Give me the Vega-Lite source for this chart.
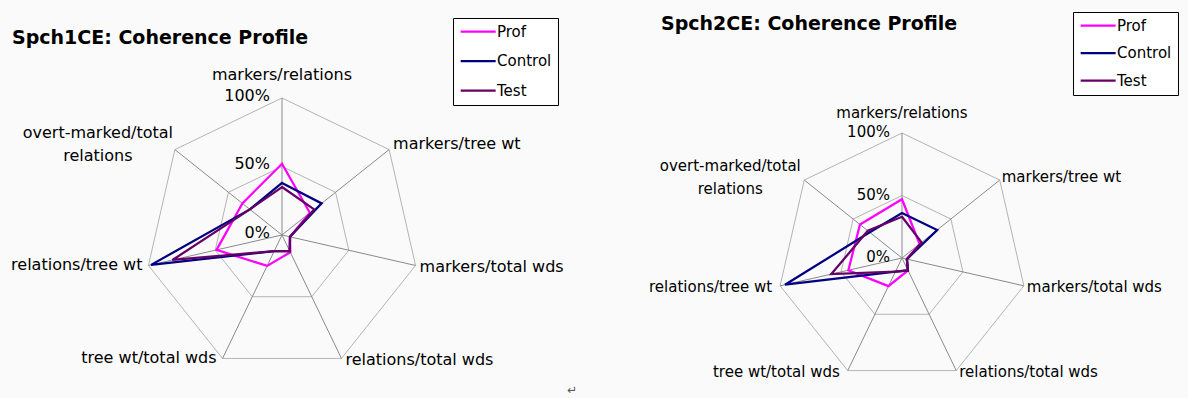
{
  "$schema": "https://vega.github.io/schema/vega-lite/v6.json",
  "background": "#fafafa",
  "padding": 0,
  "autosize": {"type": "pad"},
  "spacing": 0,
  "bounds": "flush",
  "config": {"view": {"stroke": null}, "font": "DejaVu Sans"},
  "datasets": {
    "axes": [
      {"axis": "markers/relations", "i": 0, "label": "markers/relations"},
      {"axis": "markers/tree wt", "i": 1, "label": "markers/tree wt"},
      {"axis": "markers/total wds", "i": 2, "label": "markers/total wds"},
      {"axis": "relations/total wds", "i": 3, "label": "relations/total wds"},
      {"axis": "tree wt/total wds", "i": 4, "label": "tree wt/total wds"},
      {"axis": "relations/tree wt", "i": 5, "label": "relations/tree wt"},
      {"axis": "overt-marked/total relations", "i": 6, "label": "overt-marked/total\nrelations"}
    ],
    "ticks": [
      {"label": "100%", "v": 100},
      {"label": "50%", "v": 50},
      {"label": "0%", "v": 0}
    ],
    "spch1": [
      {"series": "Prof", "axis": "markers/relations", "value": 52},
      {"series": "Prof", "axis": "markers/tree wt", "value": 26},
      {"series": "Prof", "axis": "markers/total wds", "value": 6},
      {"series": "Prof", "axis": "relations/total wds", "value": 14},
      {"series": "Prof", "axis": "tree wt/total wds", "value": 25},
      {"series": "Prof", "axis": "relations/tree wt", "value": 49},
      {"series": "Prof", "axis": "overt-marked/total relations", "value": 37},
      {"series": "Control", "axis": "markers/relations", "value": 38},
      {"series": "Control", "axis": "markers/tree wt", "value": 37},
      {"series": "Control", "axis": "markers/total wds", "value": 6},
      {"series": "Control", "axis": "relations/total wds", "value": 13},
      {"series": "Control", "axis": "tree wt/total wds", "value": 13},
      {"series": "Control", "axis": "relations/tree wt", "value": 98},
      {"series": "Control", "axis": "overt-marked/total relations", "value": 30},
      {"series": "Test", "axis": "markers/relations", "value": 35},
      {"series": "Test", "axis": "markers/tree wt", "value": 30},
      {"series": "Test", "axis": "markers/total wds", "value": 6},
      {"series": "Test", "axis": "relations/total wds", "value": 13},
      {"series": "Test", "axis": "tree wt/total wds", "value": 13},
      {"series": "Test", "axis": "relations/tree wt", "value": 82},
      {"series": "Test", "axis": "overt-marked/total relations", "value": 30}
    ],
    "spch2": [
      {"series": "Prof", "axis": "markers/relations", "value": 47},
      {"series": "Prof", "axis": "markers/tree wt", "value": 18},
      {"series": "Prof", "axis": "markers/total wds", "value": 4},
      {"series": "Prof", "axis": "relations/total wds", "value": 11},
      {"series": "Prof", "axis": "tree wt/total wds", "value": 25},
      {"series": "Prof", "axis": "relations/tree wt", "value": 44},
      {"series": "Prof", "axis": "overt-marked/total relations", "value": 43},
      {"series": "Control", "axis": "markers/relations", "value": 36},
      {"series": "Control", "axis": "markers/tree wt", "value": 36},
      {"series": "Control", "axis": "markers/total wds", "value": 4},
      {"series": "Control", "axis": "relations/total wds", "value": 11},
      {"series": "Control", "axis": "tree wt/total wds", "value": 12},
      {"series": "Control", "axis": "relations/tree wt", "value": 96},
      {"series": "Control", "axis": "overt-marked/total relations", "value": 33},
      {"series": "Test", "axis": "markers/relations", "value": 33},
      {"series": "Test", "axis": "markers/tree wt", "value": 20},
      {"series": "Test", "axis": "markers/total wds", "value": 4},
      {"series": "Test", "axis": "relations/total wds", "value": 11},
      {"series": "Test", "axis": "tree wt/total wds", "value": 12},
      {"series": "Test", "axis": "relations/tree wt", "value": 58},
      {"series": "Test", "axis": "overt-marked/total relations", "value": 35}
    ],
    "titles": [
      {"chart": "spch1", "title": "Spch1CE: Coherence Profile"},
      {"chart": "spch2", "title": "Spch2CE: Coherence Profile"}
    ]
  },
  "resolve": {"scale": {"color": "independent"}, "legend": {"color": "independent"}},
  "hconcat": [
    {
      "width": 580,
      "height": 398,
      "encoding": {
        "x": {"field": "px", "type": "quantitative", "scale": {"domain": [-205.84, 217.52], "nice": false, "zero": false}, "axis": null},
        "y": {"field": "py", "type": "quantitative", "scale": {"domain": [-118.98, 171.53], "nice": false, "zero": false}, "axis": null}
      },
      "layer": [
        {
          "data": {"name": "axes"},
          "transform": [{"calculate": "100*sin(2*PI*datum.i/7)", "as": "px"}, {"calculate": "100*cos(2*PI*datum.i/7)", "as": "py"}],
          "mark": {"type": "line", "interpolate": "linear-closed", "color": "#b4b4b4", "strokeWidth": 1},
          "encoding": {"order": {"field": "i"}}
        },
        {
          "data": {"name": "axes"},
          "transform": [{"calculate": "50*sin(2*PI*datum.i/7)", "as": "px"}, {"calculate": "50*cos(2*PI*datum.i/7)", "as": "py"}],
          "mark": {"type": "line", "interpolate": "linear-closed", "color": "#b4b4b4", "strokeWidth": 1},
          "encoding": {"order": {"field": "i"}}
        },
        {
          "data": {"name": "axes"},
          "transform": [{"calculate": "0", "as": "px"}, {"calculate": "0", "as": "py"}, {"calculate": "100*sin(2*PI*datum.i/7)", "as": "qx"}, {"calculate": "100*cos(2*PI*datum.i/7)", "as": "qy"}],
          "mark": {"type": "rule", "color": "#8a8a8a", "strokeWidth": 1},
          "encoding": {"x2": {"field": "qx"}, "y2": {"field": "qy"}}
        },
        {
          "data": {"name": "spch1"},
          "transform": [
            {"lookup": "axis", "from": {"data": {"name": "axes"}, "key": "axis", "fields": ["i"]}},
            {"calculate": "datum.value*sin(2*PI*datum.i/7)", "as": "px"},
            {"calculate": "datum.value*cos(2*PI*datum.i/7)", "as": "py"}
          ],
          "mark": {"type": "line", "interpolate": "linear-closed", "strokeWidth": 2.25},
          "encoding": {
            "order": {"field": "i"},
            "color": {
              "field": "series", "type": "nominal",
              "scale": {"domain": ["Prof", "Control", "Test"], "range": ["#ff00ff", "#000080", "#660066"]},
              "legend": {"orient": "none", "legendX": 453, "legendY": 18, "title": null, "symbolType": "M-1,0H5", "symbolSize": 136, "symbolStrokeWidth": 2.25, "labelFont": "DejaVu Sans", "labelFontSize": 15, "labelColor": "#000000", "labelOffset": 23, "rowPadding": 13.5, "padding": 6, "strokeColor": "#000000", "fillColor": "#ffffff"}
            }
          }
        },
        {
          "data": {"name": "ticks"},
          "transform": [{"calculate": "0", "as": "px"}, {"calculate": "datum.v", "as": "py"}],
          "mark": {"type": "text", "align": "right", "baseline": "middle", "dx": -12, "dy": -2, "font": "DejaVu Sans", "fontSize": 16, "color": "#000000"},
          "encoding": {"text": {"field": "label"}}
        },
        {
          "data": {"name": "axes"},
          "transform": [{"filter": "datum.i == 0"}, {"calculate": "100*sin(2*PI*datum.i/7)", "as": "px"}, {"calculate": "100*cos(2*PI*datum.i/7)", "as": "py"}],
          "mark": {"type": "text", "align": "center", "baseline": "middle", "dy": -23, "font": "DejaVu Sans", "fontSize": 16, "color": "#000000"},
          "encoding": {"text": {"field": "label"}}
        },
        {
          "data": {"name": "axes"},
          "transform": [{"filter": "datum.i == 1"}, {"calculate": "100*sin(2*PI*datum.i/7)", "as": "px"}, {"calculate": "100*cos(2*PI*datum.i/7)", "as": "py"}],
          "mark": {"type": "text", "align": "left", "baseline": "middle", "dx": 4, "dy": -6, "font": "DejaVu Sans", "fontSize": 16, "color": "#000000"},
          "encoding": {"text": {"field": "label"}}
        },
        {
          "data": {"name": "axes"},
          "transform": [{"filter": "datum.i == 2 || datum.i == 3"}, {"calculate": "100*sin(2*PI*datum.i/7)", "as": "px"}, {"calculate": "100*cos(2*PI*datum.i/7)", "as": "py"}],
          "mark": {"type": "text", "align": "left", "baseline": "middle", "dx": 4, "dy": 2, "font": "DejaVu Sans", "fontSize": 16, "color": "#000000"},
          "encoding": {"text": {"field": "label"}}
        },
        {
          "data": {"name": "axes"},
          "transform": [{"filter": "datum.i == 4 || datum.i == 5"}, {"calculate": "100*sin(2*PI*datum.i/7)", "as": "px"}, {"calculate": "100*cos(2*PI*datum.i/7)", "as": "py"}],
          "mark": {"type": "text", "align": "right", "baseline": "middle", "dx": -6, "dy": 0, "font": "DejaVu Sans", "fontSize": 16, "color": "#000000"},
          "encoding": {"text": {"field": "label"}}
        },
        {
          "data": {"name": "axes"},
          "transform": [{"filter": "datum.i == 6"}, {"calculate": "100*sin(2*PI*datum.i/7)", "as": "px"}, {"calculate": "100*cos(2*PI*datum.i/7)", "as": "py"}],
          "mark": {"type": "text", "align": "center", "baseline": "middle", "dx": -77, "dy": -17, "lineBreak": "\n", "lineHeight": 23, "font": "DejaVu Sans", "fontSize": 16, "color": "#000000"},
          "encoding": {"text": {"field": "label"}}
        },
        {
          "data": {"name": "titles"},
          "transform": [{"filter": "datum.chart == 'spch1'"}, {"calculate": "-197.1", "as": "px"}, {"calculate": "139.4", "as": "py"}],
          "mark": {"type": "text", "align": "left", "baseline": "alphabetic", "font": "DejaVu Sans", "fontSize": 19, "fontWeight": "bold", "color": "#000000"},
          "encoding": {"text": {"field": "title"}}
        },
        {
          "data": {"values": [{"sym": "↵"}]},
          "transform": [{"calculate": "211.7", "as": "px"}, {"calculate": "-113", "as": "py"}],
          "mark": {"type": "text", "align": "center", "baseline": "middle", "font": "DejaVu Sans", "fontSize": 12, "color": "#555555"},
          "encoding": {"text": {"field": "sym"}}
        }
      ]
    },
    {
      "width": 608,
      "height": 398,
      "encoding": {
        "x": {"field": "px", "type": "quantitative", "scale": {"domain": [-257.6, 228.8], "nice": false, "zero": false}, "axis": null},
        "y": {"field": "py", "type": "quantitative", "scale": {"domain": [-112, 206.4], "nice": false, "zero": false}, "axis": null}
      },
      "layer": [
        {
          "data": {"name": "axes"},
          "transform": [{"calculate": "100*sin(2*PI*datum.i/7)", "as": "px"}, {"calculate": "100*cos(2*PI*datum.i/7)", "as": "py"}],
          "mark": {"type": "line", "interpolate": "linear-closed", "color": "#b4b4b4", "strokeWidth": 1},
          "encoding": {"order": {"field": "i"}}
        },
        {
          "data": {"name": "axes"},
          "transform": [{"calculate": "50*sin(2*PI*datum.i/7)", "as": "px"}, {"calculate": "50*cos(2*PI*datum.i/7)", "as": "py"}],
          "mark": {"type": "line", "interpolate": "linear-closed", "color": "#b4b4b4", "strokeWidth": 1},
          "encoding": {"order": {"field": "i"}}
        },
        {
          "data": {"name": "axes"},
          "transform": [{"calculate": "0", "as": "px"}, {"calculate": "0", "as": "py"}, {"calculate": "100*sin(2*PI*datum.i/7)", "as": "qx"}, {"calculate": "100*cos(2*PI*datum.i/7)", "as": "qy"}],
          "mark": {"type": "rule", "color": "#8a8a8a", "strokeWidth": 1},
          "encoding": {"x2": {"field": "qx"}, "y2": {"field": "qy"}}
        },
        {
          "data": {"name": "spch2"},
          "transform": [
            {"lookup": "axis", "from": {"data": {"name": "axes"}, "key": "axis", "fields": ["i"]}},
            {"calculate": "datum.value*sin(2*PI*datum.i/7)", "as": "px"},
            {"calculate": "datum.value*cos(2*PI*datum.i/7)", "as": "py"}
          ],
          "mark": {"type": "line", "interpolate": "linear-closed", "strokeWidth": 2.25},
          "encoding": {
            "order": {"field": "i"},
            "color": {
              "field": "series", "type": "nominal",
              "scale": {"domain": ["Prof", "Control", "Test"], "range": ["#ff00ff", "#000080", "#660066"]},
              "legend": {"orient": "none", "legendX": 493, "legendY": 12, "title": null, "symbolType": "M-1,0H5", "symbolSize": 136, "symbolStrokeWidth": 2.25, "labelFont": "DejaVu Sans", "labelFontSize": 15, "labelColor": "#000000", "labelOffset": 23, "rowPadding": 11.5, "padding": 6, "strokeColor": "#000000", "fillColor": "#ffffff"}
            }
          }
        },
        {
          "data": {"name": "ticks"},
          "transform": [{"calculate": "0", "as": "px"}, {"calculate": "datum.v", "as": "py"}],
          "mark": {"type": "text", "align": "right", "baseline": "middle", "dx": -12, "dy": -1, "font": "DejaVu Sans", "fontSize": 15, "color": "#000000"},
          "encoding": {"text": {"field": "label"}}
        },
        {
          "data": {"name": "axes"},
          "transform": [{"filter": "datum.i == 0"}, {"calculate": "100*sin(2*PI*datum.i/7)", "as": "px"}, {"calculate": "100*cos(2*PI*datum.i/7)", "as": "py"}],
          "mark": {"type": "text", "align": "center", "baseline": "middle", "dy": -20, "font": "DejaVu Sans", "fontSize": 15, "color": "#000000"},
          "encoding": {"text": {"field": "label"}}
        },
        {
          "data": {"name": "axes"},
          "transform": [{"filter": "datum.i == 1"}, {"calculate": "100*sin(2*PI*datum.i/7)", "as": "px"}, {"calculate": "100*cos(2*PI*datum.i/7)", "as": "py"}],
          "mark": {"type": "text", "align": "left", "baseline": "middle", "dx": 2, "dy": -3, "font": "DejaVu Sans", "fontSize": 15, "color": "#000000"},
          "encoding": {"text": {"field": "label"}}
        },
        {
          "data": {"name": "axes"},
          "transform": [{"filter": "datum.i == 2 || datum.i == 3"}, {"calculate": "100*sin(2*PI*datum.i/7)", "as": "px"}, {"calculate": "100*cos(2*PI*datum.i/7)", "as": "py"}],
          "mark": {"type": "text", "align": "left", "baseline": "middle", "dx": 3, "dy": 1, "font": "DejaVu Sans", "fontSize": 15, "color": "#000000"},
          "encoding": {"text": {"field": "label"}}
        },
        {
          "data": {"name": "axes"},
          "transform": [{"filter": "datum.i == 4 || datum.i == 5"}, {"calculate": "100*sin(2*PI*datum.i/7)", "as": "px"}, {"calculate": "100*cos(2*PI*datum.i/7)", "as": "py"}],
          "mark": {"type": "text", "align": "right", "baseline": "middle", "dx": -8, "dy": 1, "font": "DejaVu Sans", "fontSize": 15, "color": "#000000"},
          "encoding": {"text": {"field": "label"}}
        },
        {
          "data": {"name": "axes"},
          "transform": [{"filter": "datum.i == 6"}, {"calculate": "100*sin(2*PI*datum.i/7)", "as": "px"}, {"calculate": "100*cos(2*PI*datum.i/7)", "as": "py"}],
          "mark": {"type": "text", "align": "center", "baseline": "middle", "dx": -74, "dy": -14, "lineBreak": "\n", "lineHeight": 23, "font": "DejaVu Sans", "fontSize": 15, "color": "#000000"},
          "encoding": {"text": {"field": "label"}}
        },
        {
          "data": {"name": "titles"},
          "transform": [{"filter": "datum.chart == 'spch2'"}, {"calculate": "-192.8", "as": "px"}, {"calculate": "182.4", "as": "py"}],
          "mark": {"type": "text", "align": "left", "baseline": "alphabetic", "font": "DejaVu Sans", "fontSize": 19, "fontWeight": "bold", "color": "#000000"},
          "encoding": {"text": {"field": "title"}}
        }
      ]
    }
  ]
}
